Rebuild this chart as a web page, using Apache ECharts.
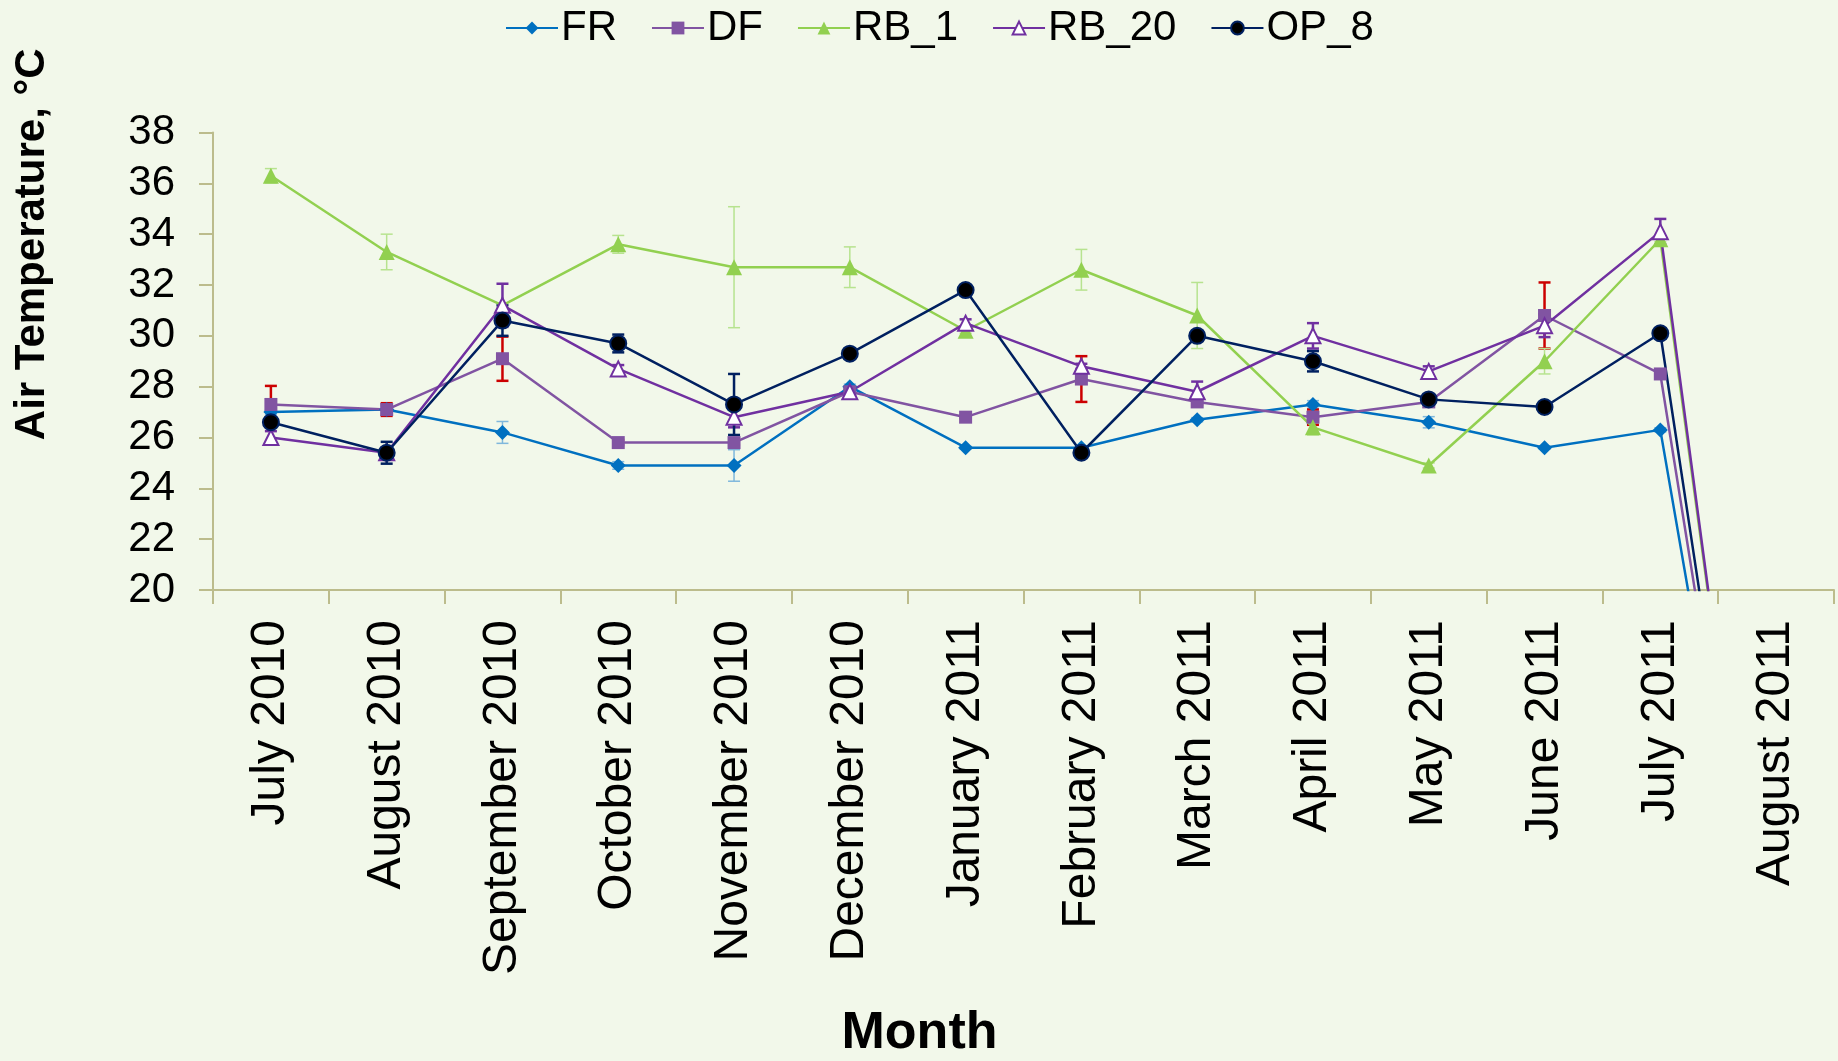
<!DOCTYPE html>
<html>
<head>
<meta charset="utf-8">
<script src="https://cdn.jsdelivr.net/npm/echarts@6/dist/echarts.min.js"></script>
<style>
html,body{margin:0;padding:0;background:#f2f8ea;}
#chart{width:1838px;height:1061px;}
</style>
</head>
<body>
<div id="chart"></div>
<script>
var months = ['July 2010','August 2010','September 2010','October 2010','November 2010','December 2010','January 2011','February 2011','March 2011','April 2011','May 2011','June 2011','July 2011','August 2011'];
var yTicks = [20,22,24,26,28,30,32,34,36,38];

var FR    = [27.0, 27.1, 26.2, 24.9, 24.9, 28.0, 25.6, 25.6, 26.7, 27.3, 26.6, 25.6, 26.3, 0];
var DF    = [27.3, 27.1, 29.1, 25.8, 25.8, 27.8, 26.8, 28.3, 27.4, 26.8, 27.4, 30.8, 28.5, 0];
var RB_1  = [36.3, 33.3, 31.2, 33.6, 32.7, 32.7, 30.2, 32.6, 30.8, 26.4, 24.9, 29.0, 33.8, 0];
var RB_20 = [26.0, 25.4, 31.2, 28.7, 26.8, 27.8, 30.5, 28.8, 27.8, 30.0, 28.6, 30.4, 34.1, 0];
var OP_8  = [26.6, 25.4, 30.6, 29.7, 27.3, 29.3, 31.8, 25.4, 30.0, 29.0, 27.5, 27.2, 30.1, 0];

var FR_err    = [0.10, 0.15, 0.43, 0.15, 0.62, 0.10, 0.05, 0.05, 0.08, 0.15, 0.22, 0.05, 0.08];
var DF_err    = [0.73, 0.25, 0.87, 0.10, 0.10, 0.10, 0.05, 0.90, 0.10, 0.30, 0.10, 1.30, 0.10];
var RB_1_err  = [0.28, 0.70, 0.10, 0.35, 2.38, 0.80, 0.10, 0.80, 1.30, 0.30, 0.10, 0.50, 0.10];
var RB_20_err = [0.25, 0.20, 0.85, 0.15, 0.40, 0.10, 0.15, 0.10, 0.40, 0.50, 0.20, 0.45, 0.50];
var OP_8_err  = [0.10, 0.43, 0.60, 0.35, 1.20, 0.15, 0.15, 0.10, 0.20, 0.40, 0.10, 0.10, 0.20];

var AXIS = '#bcbc8c';
var FONT = '"Liberation Sans", Arial, sans-serif';

function errData(vals, errs){
  var out = [];
  for (var i = 0; i < errs.length; i++) out.push([i, vals[i] - errs[i], vals[i] + errs[i]]);
  return out;
}
function errSeries(name, vals, errs, color, w){
  return {
    type: 'custom', name: name + ' err', z: 1, silent: true,
    data: errData(vals, errs),
    renderItem: function(params, api){
      var x = api.value(0);
      var lo = api.coord([x, api.value(1)]);
      var hi = api.coord([x, api.value(2)]);
      var hw = 6;
      var st = {stroke: color, lineWidth: w};
      return {type: 'group', children: [
        {type: 'line', shape: {x1: lo[0], y1: lo[1], x2: hi[0], y2: hi[1]}, style: st},
        {type: 'line', shape: {x1: lo[0]-hw, y1: lo[1], x2: lo[0]+hw, y2: lo[1]}, style: st},
        {type: 'line', shape: {x1: hi[0]-hw, y1: hi[1], x2: hi[0]+hw, y2: hi[1]}, style: st}
      ]};
    }
  };
}
function lineSeries(name, vals, lineColor, symbol, size, fill, border){
  return {
    type: 'line', name: name, data: vals, z: 3,
    symbol: symbol, symbolSize: size, showAllSymbol: true,
    lineStyle: {color: lineColor, width: 2.5},
    itemStyle: {color: fill, borderColor: border, borderWidth: border ? 2 : 0, opacity: 1},
    emphasis: {disabled: true},
    clip: true
  };
}

var chart = echarts.init(document.getElementById('chart'), null, {renderer: 'canvas'});
chart.setOption({
  backgroundColor: '#f2f8ea',
  animation: false,
  textStyle: {fontFamily: FONT},
  legend: {
    data: ['FR','DF','RB_1','RB_20','OP_8'],
    top: 2, left: 500,
    itemWidth: 52, itemHeight: 16, itemGap: 34,
    textStyle: {fontSize: 42, color: '#000', fontFamily: FONT, padding: [0,0,0,-2]}
  },
  grid: {left: 213, right: 4, top: 132.5, bottom: 466.5, containLabel: false},
  xAxis: {
    type: 'category', data: months, boundaryGap: true,
    name: 'Month', nameLocation: 'middle', nameGap: 418,
    nameTextStyle: {fontSize: 52, fontWeight: 'bold', color: '#000', fontFamily: FONT, padding: [0, 208, 0, 0]},
    axisLine: {show: true, lineStyle: {color: AXIS, width: 2}},
    axisTick: {show: true, length: 14, alignWithLabel: false, interval: 0, lineStyle: {color: AXIS, width: 2}},
    axisLabel: {rotate: 90, interval: 0, fontSize: 48, color: '#000', margin: 30, fontFamily: FONT},
    splitLine: {show: false}
  },
  yAxis: {
    type: 'value', min: 20, max: 38, interval: 2,
    name: 'Air Temperature, °C', nameLocation: 'middle', nameGap: 160,
    nameTextStyle: {fontSize: 42, fontWeight: 'bold', color: '#000', fontFamily: FONT, padding: [0, 0, 0, 234]},
    axisLine: {show: true, lineStyle: {color: AXIS, width: 2}},
    axisTick: {show: true, length: 14, lineStyle: {color: AXIS, width: 2}},
    axisLabel: {fontSize: 42, color: '#000', margin: 38, fontFamily: FONT,
      formatter: function(v){ return yTicks.indexOf(v) >= 0 ? String(v) : ''; }},
    splitLine: {show: false}
  },
  series: [
    errSeries('FR', FR, FR_err, '#7fb7dc', 1.5),
    errSeries('DF', DF, DF_err, '#cc0000', 2.5),
    errSeries('RB_1', RB_1, RB_1_err, '#b7e38f', 1.5),
    errSeries('RB_20', RB_20, RB_20_err, '#7030a0', 2.5),
    errSeries('OP_8', OP_8, OP_8_err, '#002060', 2.5),
    lineSeries('FR', FR, '#0070c0', 'diamond', 15, '#0070c0', null),
    lineSeries('DF', DF, '#8154a2', 'rect', 13, '#8154a2', null),
    lineSeries('RB_1', RB_1, '#92d050', 'triangle', 16, '#92d050', null),
    lineSeries('RB_20', RB_20, '#7030a0', 'triangle', 15, '#ffffff', '#7030a0'),
    lineSeries('OP_8', OP_8, '#002060', 'circle', 16, '#000000', '#002060')
  ]
});
</script>
</body>
</html>
